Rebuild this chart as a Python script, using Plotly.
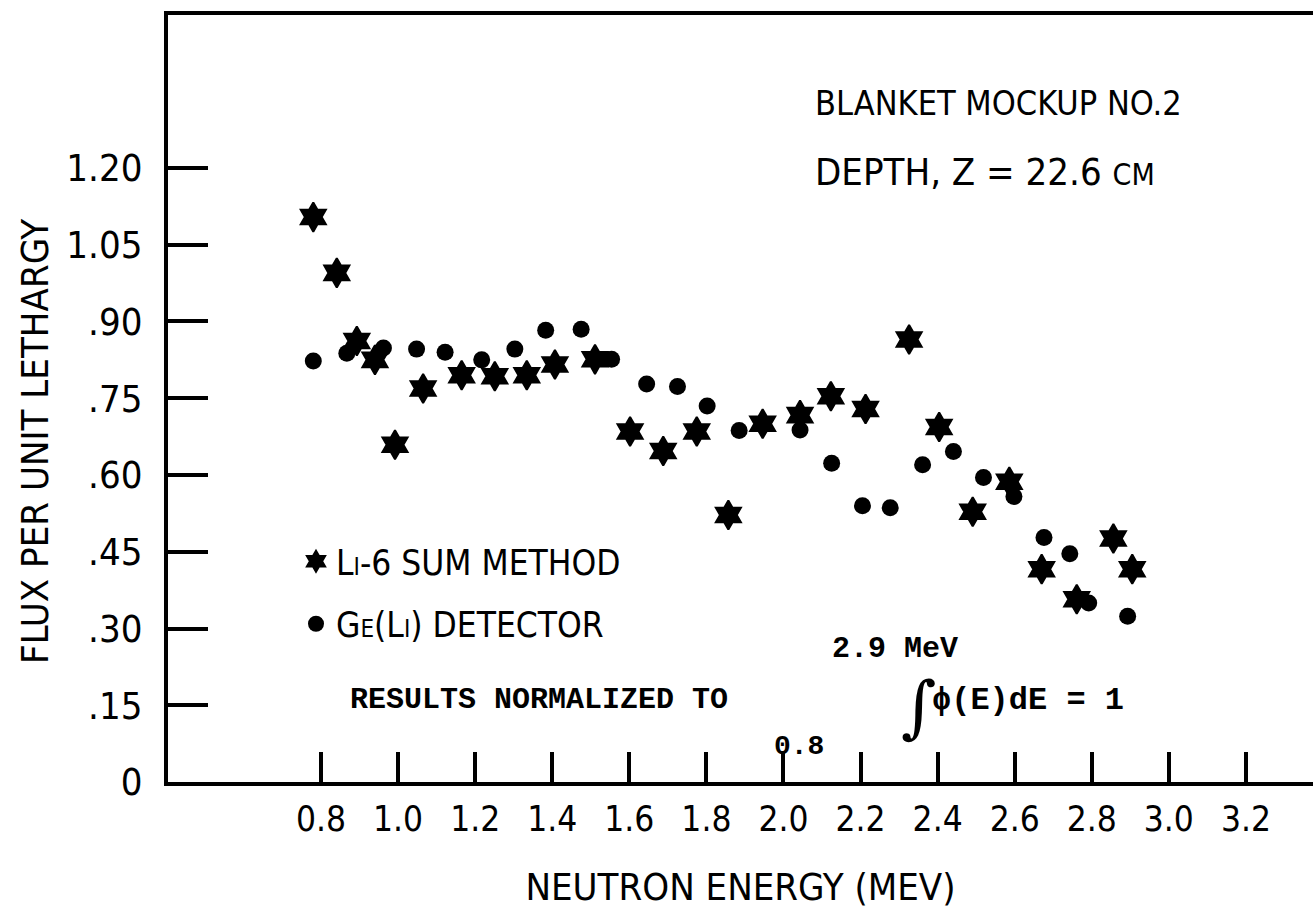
import plotly.graph_objects as go

# ---- data ----
li6_energy = [0.780, 0.841, 0.893, 0.940, 0.992, 1.065, 1.165, 1.251, 1.334, 1.407,
              1.511, 1.602, 1.688, 1.775, 1.857, 1.946, 2.043, 2.123, 2.213, 2.326,
              2.404, 2.491, 2.586, 2.670, 2.761, 2.856, 2.905]
li6_flux = [1.104, 0.995, 0.862, 0.825, 0.659, 0.769, 0.795, 0.793, 0.795, 0.816,
            0.826, 0.685, 0.647, 0.685, 0.522, 0.700, 0.717, 0.754, 0.729, 0.865,
            0.694, 0.528, 0.587, 0.416, 0.357, 0.476, 0.416]

ge_energy = [0.780, 0.867, 0.962, 1.048, 1.122, 1.217, 1.303, 1.383, 1.475, 1.554,
             1.645, 1.725, 1.802, 1.885, 2.043, 2.125, 2.205, 2.277, 2.361, 2.441,
             2.519, 2.598, 2.676, 2.743, 2.792, 2.893]
ge_flux = [0.823, 0.838, 0.848, 0.846, 0.840, 0.825, 0.846, 0.883, 0.885, 0.826,
           0.778, 0.773, 0.735, 0.687, 0.688, 0.623, 0.540, 0.536, 0.620, 0.646,
           0.595, 0.558, 0.478, 0.446, 0.350, 0.324]

x_ticks = [0.8, 1.0, 1.2, 1.4, 1.6, 1.8, 2.0, 2.2, 2.4, 2.6, 2.8, 3.0, 3.2]
x_tick_labels = ["0.8", "1.0", "1.2", "1.4", "1.6", "1.8", "2.0", "2.2", "2.4", "2.6", "2.8", "3.0", "3.2"]
y_ticks = [0, 0.15, 0.30, 0.45, 0.60, 0.75, 0.90, 1.05, 1.20]
y_tick_labels = ["0", ".15", ".30", ".45", ".60", ".75", ".90", "1.05", "1.20"]

COND = "DejaVu Sans Condensed, Liberation Sans Narrow, Roboto Condensed, DejaVu Sans, sans-serif"
MONO = "Liberation Mono, Courier New, DejaVu Sans Mono, monospace"

L0, T0, W, H = 168, 15, 1145, 767


def px(x):
    return (x - L0) / W


def py(y):
    return (T0 + H - y) / H


fig = go.Figure()
fig.add_trace(go.Scatter(
    x=li6_energy, y=li6_flux, mode="markers", name="L<span style='font-size:24px'>I</span>-6 SUM METHOD",
    marker=dict(symbol="hexagram", size=22, color="black", line=dict(color="black", width=2)),
    legendgroup="a"))
fig.add_trace(go.Scatter(
    x=ge_energy, y=ge_flux, mode="markers",
    name="G<span style='font-size:24px'>E</span>(L<span style='font-size:24px'>I</span>) DETECTOR",
    marker=dict(symbol="circle", size=17, color="black"),
    legendgroup="b"))

fig.update_layout(
    width=1313, height=916,
    margin=dict(l=L0, r=0, t=T0, b=916 - T0 - H),
    paper_bgcolor="white", plot_bgcolor="white",
    font=dict(family=COND, color="black"),
    showlegend=True,
    legend=dict(x=px(296), y=py(532), xanchor="left", yanchor="top",
                font=dict(size=35, family=COND), tracegroupgap=14, bgcolor="rgba(0,0,0,0)",
                itemsizing="trace"),
    xaxis=dict(range=[0.403, 3.374], showgrid=False, zeroline=False,
               showline=True, linecolor="black", linewidth=4, mirror=True,
               ticks="inside", ticklen=30, tickwidth=4, tickcolor="black",
               tickvals=x_ticks, ticktext=x_tick_labels,
               tickfont=dict(size=35, family=COND), ticklabelstandoff=3,
               title=dict(text="NEUTRON ENERGY (MEV)", font=dict(size=38, family=COND), standoff=36)),
    yaxis=dict(range=[0, 1.499], showgrid=False, zeroline=False,
               showline=True, linecolor="black", linewidth=4,
               ticks="inside", ticklen=40, tickwidth=4, tickcolor="black",
               tickvals=y_ticks, ticktext=y_tick_labels,
               tickfont=dict(size=38, family=COND), ticklabelstandoff=14),
    annotations=[
        dict(text="FLUX PER UNIT LETHARGY", xref="paper", yref="paper",
             x=px(35), y=py(442), xanchor="center", yanchor="middle", textangle=-90,
             showarrow=False, font=dict(size=38, family=COND)),
        dict(text="BLANKET MOCKUP NO.2", xref="paper", yref="paper",
             x=px(813), y=py(103), xanchor="left", yanchor="middle",
             showarrow=False, font=dict(size=34, family=COND)),
        dict(text="DEPTH, Z = 22.6 <span style='font-size:30px'>CM</span>", xref="paper", yref="paper",
             x=px(813), y=py(172), xanchor="left", yanchor="middle",
             showarrow=False, font=dict(size=38, family=COND)),
        dict(text="<b>RESULTS NORMALIZED TO</b>", xref="paper", yref="paper",
             x=px(348), y=py(700), xanchor="left", yanchor="middle",
             showarrow=False, font=dict(size=30, family=MONO)),
        dict(text="<b>2.9 MeV</b>", xref="paper", yref="paper",
             x=px(830), y=py(649), xanchor="left", yanchor="middle",
             showarrow=False, font=dict(size=30, family=MONO)),
        dict(text="<b>0.8</b>", xref="paper", yref="paper",
             x=px(772), y=py(746), xanchor="left", yanchor="middle",
             showarrow=False, font=dict(size=28, family=MONO)),
        dict(text="\u222b", xref="paper", yref="paper",
             x=px(918), y=py(706), xanchor="center", yanchor="middle",
             showarrow=False, font=dict(size=68, family="DejaVu Serif, serif")),
        dict(text="<b>\u03d5(E)dE = 1</b>", xref="paper", yref="paper",
             x=px(930), y=py(700), xanchor="left", yanchor="middle",
             showarrow=False, font=dict(size=32, family=MONO)),
    ],
)

fig.write_html("out.html")
